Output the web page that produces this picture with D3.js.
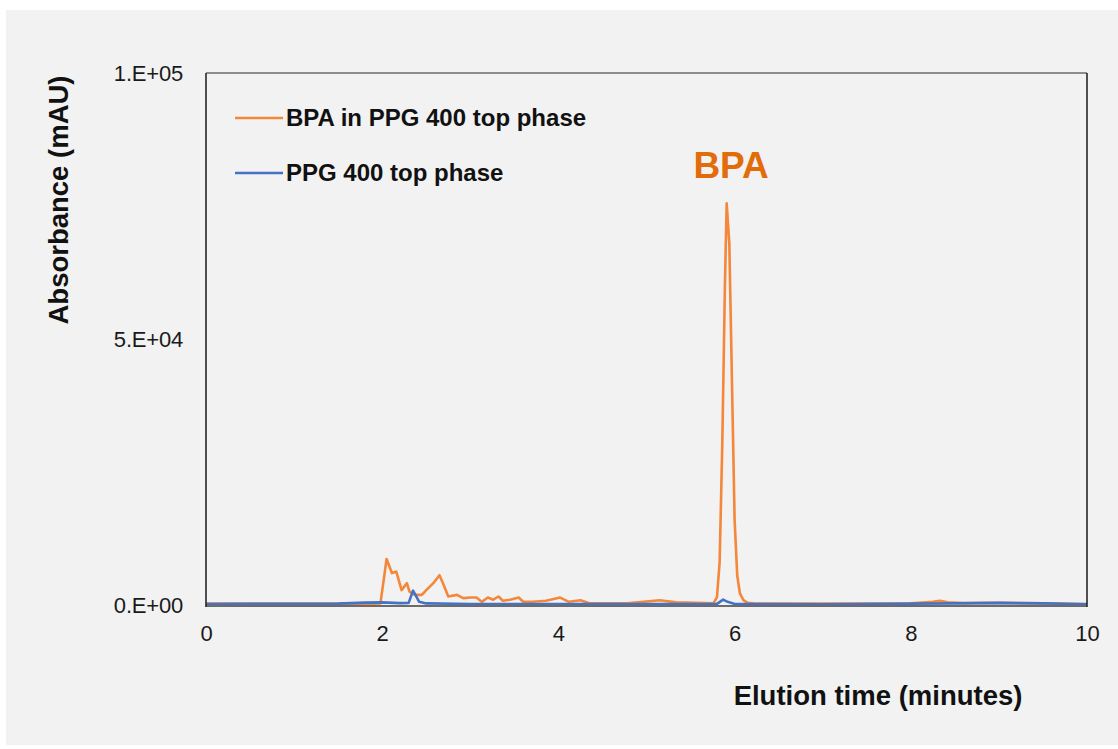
<!DOCTYPE html>
<html>
<head>
<meta charset="utf-8">
<script src="https://cdn.jsdelivr.net/npm/d3@7"></script>
<style>
  html, body { margin: 0; padding: 0; background: #ffffff; }
  svg { display: block; }
  text { font-family: "Liberation Sans", Arial, sans-serif; }
</style>
</head>
<body>
<svg id="chart" width="1118" height="749"></svg>
<script>
// ---- Data ----
const bpaTime = [0, 1.0, 1.9, 1.98, 2.05, 2.11, 2.16, 2.22, 2.28, 2.31, 2.37, 2.45, 2.50, 2.58, 2.65, 2.69, 2.75, 2.85, 2.92, 3.00, 3.07, 3.13, 3.20, 3.26, 3.32, 3.37, 3.45, 3.55, 3.60, 3.71, 3.86, 4.02, 4.12, 4.25, 4.36, 4.78, 5.15, 5.34, 5.76, 5.80, 5.83, 5.86, 5.89, 5.91, 5.94, 5.97, 6.00, 6.03, 6.06, 6.10, 6.15, 6.25, 7.0, 8.0, 8.25, 8.33, 8.42, 8.6, 9.0, 9.5, 10];
const bpaValues = [250, 250, 250, 300, 8650, 6000, 6260, 2800, 4100, 2500, 1900, 1900, 2800, 4100, 5600, 4100, 1600, 1900, 1300, 1400, 1400, 600, 1400, 1000, 1600, 800, 1000, 1400, 600, 600, 800, 1400, 600, 900, 300, 300, 900, 500, 300, 1500, 8000, 30000, 60000, 75500, 68000, 42000, 16000, 5500, 2200, 900, 400, 250, 250, 300, 600, 800, 500, 350, 400, 300, 200];

const blankTime = [0, 1.5, 1.8, 2.0, 2.2, 2.30, 2.35, 2.38, 2.42, 2.5, 3.0, 5.8, 5.87, 5.92, 6.0, 7.0, 8.5, 9.0, 9.5, 10];
const blankValues = [200, 250, 450, 500, 350, 400, 2700, 1800, 600, 300, 200, 200, 1000, 600, 200, 150, 300, 400, 300, 150];

const xTicks = [0, 2, 4, 6, 8, 10];
const yTicks = [0, 50000, 100000];
const yTickLabels = ["0.E+00", "5.E+04", "1.E+05"];
const seriesNames = ["BPA in PPG 400 top phase", "PPG 400 top phase"];
const xTitle = "Elution time (minutes)";
const yTitle = "Absorbance (mAU)";
const peakLabel = "BPA";
const peakTime = 5.96;

// ---- Layout ----
const svg = d3.select("#chart");
const L = 206, R = 1087, T = 73, B = 605;
const orange = "#F4873A", blue = "#4472C4";

svg.append("rect").attr("x", 6).attr("y", 10).attr("width", 1112).attr("height", 735).attr("fill", "#f2f2f2");

const x = d3.scaleLinear().domain([0, 10]).range([L, R]);
const y = d3.scaleLinear().domain([0, 100000]).range([B, T]);

// tick labels via axes
const xAxis = svg.append("g").attr("transform", `translate(0,${B})`)
  .call(d3.axisBottom(x).tickValues(xTicks).tickSize(0).tickPadding(20).tickFormat(d3.format("d")));
xAxis.select(".domain").remove();
xAxis.selectAll("text").attr("font-size", 22).attr("fill", "#1a1a1a").attr("font-family", "Liberation Sans, Arial, sans-serif");

const yAxis = svg.append("g").attr("transform", `translate(${L},0)`)
  .call(d3.axisLeft(y).tickValues(yTicks).tickSize(0).tickPadding(23).tickFormat((d, i) => yTickLabels[i]));
yAxis.select(".domain").remove();
yAxis.selectAll("text").attr("font-size", 22).attr("fill", "#1a1a1a").attr("letter-spacing", -0.2).attr("font-family", "Liberation Sans, Arial, sans-serif");

// clip
svg.append("clipPath").attr("id", "clip").append("rect").attr("x", L).attr("y", T).attr("width", R - L).attr("height", B - T);

const line = d3.line().x(d => x(d[0])).y(d => y(d[1]));
const bpaData = bpaTime.map((t, i) => [t, bpaValues[i]]);
const blankData = blankTime.map((t, i) => [t, blankValues[i]]);

const plot = svg.append("g").attr("clip-path", "url(#clip)");
plot.append("path").datum(bpaData).attr("d", line).attr("fill", "none").attr("stroke", orange).attr("stroke-width", 2.6).attr("stroke-linejoin", "round");
plot.append("path").datum(blankData).attr("d", line).attr("fill", "none").attr("stroke", blue).attr("stroke-width", 2.6).attr("stroke-linejoin", "round");

// plot border
svg.append("line").attr("x1", L).attr("x2", R).attr("y1", T).attr("y2", T).attr("stroke", "#8c8c8c").attr("stroke-width", 2.2);
svg.append("line").attr("x1", L).attr("x2", R).attr("y1", B + 1).attr("y2", B + 1).attr("stroke", "#6b6b6b").attr("stroke-width", 2.2);
svg.append("line").attr("x1", L).attr("x2", L).attr("y1", T).attr("y2", B + 2).attr("stroke", "#262626").attr("stroke-width", 1.6);
svg.append("line").attr("x1", R).attr("x2", R).attr("y1", T).attr("y2", B + 2).attr("stroke", "#262626").attr("stroke-width", 1.6);

// legend
const legendY = [118, 173];
const colors = [orange, blue];
seriesNames.forEach((name, i) => {
  svg.append("line").attr("x1", 235).attr("x2", 283).attr("y1", legendY[i]).attr("y2", legendY[i])
    .attr("stroke", colors[i]).attr("stroke-width", 2.6);
  svg.append("text").attr("x", 286).attr("y", legendY[i] + 8).attr("font-size", 24).attr("font-weight", "bold")
    .attr("fill", "#111").text(name);
});

// peak label
svg.append("text").attr("x", x(peakTime)).attr("y", 178).attr("text-anchor", "middle")
  .attr("font-size", 37).attr("font-weight", "bold").attr("fill", "#E36C0A").text(peakLabel);

// axis titles
svg.append("text").attr("x", 878).attr("y", 705).attr("text-anchor", "middle").attr("font-size", 27.5)
  .attr("font-weight", "bold").attr("fill", "#111").text(xTitle);
svg.append("text").attr("transform", "translate(68,200) rotate(-90)").attr("text-anchor", "middle").attr("font-size", 27.5)
  .attr("font-weight", "bold").attr("fill", "#111").text(yTitle);
</script>
</body>
</html>
